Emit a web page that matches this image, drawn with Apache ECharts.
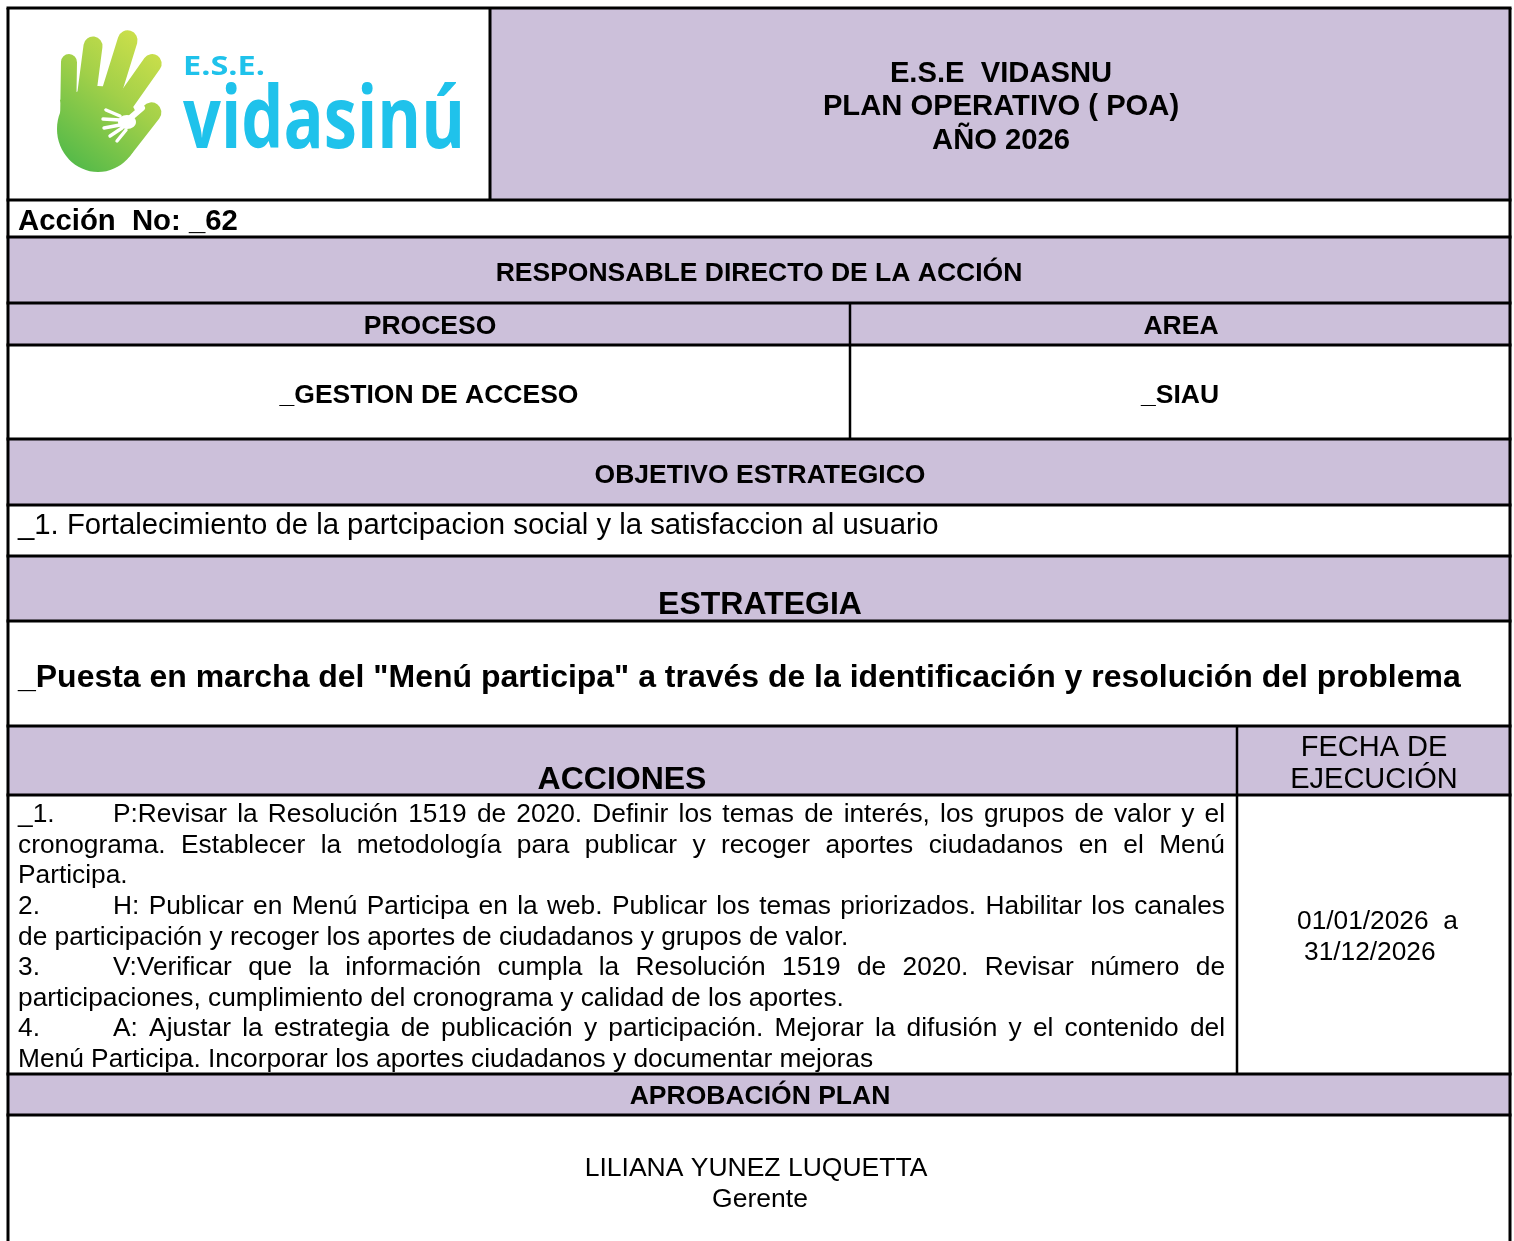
<!DOCTYPE html>
<html><head><meta charset="utf-8">
<script src="https://cdn.jsdelivr.net/npm/echarts@6/dist/echarts.min.js"></script>
<style>html,body{margin:0;padding:0;background:#fff}#c{width:1514px;height:1241px}</style>
</head><body><div id="c"></div>
<script>
// ---- content ----
const logoTexts = ['E.S.E.', 'vidasinú'];
const titleLines = ['E.S.E  VIDASNU', 'PLAN OPERATIVO ( POA)', 'AÑO 2026'];
const accionNo = 'Acción  No: _62';
const responsable = 'RESPONSABLE DIRECTO DE LA ACCIÓN';
const procesoHeaders = ['PROCESO', 'AREA'];
const procesoValues = ['_GESTION DE ACCESO', '_SIAU'];
const objetivoHeader = 'OBJETIVO ESTRATEGICO';
const objetivoText = '_1. Fortalecimiento de la partcipacion social y la satisfaccion al usuario';
const estrategiaHeader = 'ESTRATEGIA';
const estrategiaText = '_Puesta en marcha del "Menú participa" a través de la identificación y resolución del problema';
const accionesHeader = 'ACCIONES';
const fechaHeader = ['FECHA DE', 'EJECUCIÓN'];
const accionesNums = ['_1.', '', '', '2.', '', '3.', '', '4.', ''];
const accionesLines = [
  'P:Revisar la Resolución 1519 de 2020. Definir los temas de interés, los grupos de valor y el',
  'cronograma. Establecer la metodología para publicar y recoger aportes ciudadanos en el Menú',
  'Participa.',
  'H: Publicar en Menú Participa en la web. Publicar los temas priorizados. Habilitar los canales',
  'de participación y recoger los aportes de ciudadanos y grupos de valor.',
  'V:Verificar que la información cumpla la Resolución 1519 de 2020. Revisar número de',
  'participaciones, cumplimiento del cronograma y calidad de los aportes.',
  'A: Ajustar la estrategia de publicación y participación. Mejorar la difusión y el contenido del',
  'Menú Participa. Incorporar los aportes ciudadanos y documentar mejoras'
];
const accionesJustify = [true, true, false, true, false, true, false, true, false];
const fechaLines = ['01/01/2026  a', '31/12/2026'];
const aprobacionHeader = 'APROBACIÓN PLAN';
const firmaLines = ['LILIANA YUNEZ LUQUETTA', 'Gerente'];

// ---- layout ----
const FF = '"Liberation Sans", Arial, Helvetica, sans-serif';
const LOGOFF = '"Open Sans", "Liberation Sans", sans-serif';
const PURPLE = '#CCC0DA';
const L = 8, R = 1510;
const ctx = document.createElement('canvas').getContext('2d');
function mw(text, size, weight, fam) { ctx.font = (weight || 'normal') + ' ' + size + 'px ' + (fam || FF); return ctx.measureText(text).width; }
function T(text, x, y, size, weight, align) {
  return {
    type: 'text', z: 20,
    style: { text: text, x: x, y: y + 1, fill: '#000', font: (weight || 'normal') + ' ' + size + 'px ' + FF,
      textAlign: align || 'center', textVerticalAlign: 'middle' }
  };
}
function rect(x, y, w, h, fill) { return { type: 'rect', z: 1, shape: { x: x, y: y, width: w, height: h }, style: { fill: fill } }; }
function line(x1, y1, x2, y2, w) { return { type: 'line', z: 30, shape: { x1: x1, y1: y1, x2: x2, y2: y2 }, style: { stroke: '#000', lineWidth: w || 3 } }; }

const els = [];
// backgrounds
els.push(rect(0, 0, 1514, 1241, '#fff'));
els.push(rect(490, 8, R - 490, 192, PURPLE));
els.push(rect(L, 237, R - L, 66, PURPLE));
els.push(rect(L, 303, R - L, 42, PURPLE));
els.push(rect(L, 439, R - L, 66, PURPLE));
els.push(rect(L, 556, R - L, 65, PURPLE));
els.push(rect(L, 726, R - L, 69, PURPLE));
els.push(rect(L, 1074, R - L, 41, PURPLE));

// grid lines
[8, 200, 237, 303, 345, 439, 505, 556, 621, 726, 795, 1074, 1115].forEach(function (y) { els.push(line(L - 1.5, y, R + 1.5, y, 3)); });
els.push(line(L, 8, L, 1241, 3));
els.push(line(R, 8, R, 1241, 3));
els.push(line(490, 8, 490, 200, 3));
els.push(line(850, 303, 850, 439, 2.5));
els.push(line(1237, 726, 1237, 1074, 2.5));

// logo hand
const grad = { type: 'linear', x: 165, y: 35, x2: 60, y2: 170, global: true,
  colorStops: [{ offset: 0, color: '#D6E34B' }, { offset: 0.45, color: '#A2D049' }, { offset: 1, color: '#4AB749' }] };
els.push({ type: 'ellipse', z: 5, shape: { cx: 98, cy: 129, rx: 41, ry: 43 }, style: { fill: grad } });
[[69, 62, 68, 125, 16], [93, 46, 84, 115, 19], [127.6, 40.4, 106, 110, 20], [152.2, 63.5, 118, 112, 19], [151.4, 112.3, 122, 150, 20]].forEach(function (f) {
  els.push({ type: 'line', z: 5, shape: { x1: f[0], y1: f[1], x2: f[2], y2: f[3] }, style: { stroke: grad, lineWidth: f[4], lineCap: 'round' } });
});
els.push({ type: 'polygon', z: 5, shape: { points: [[60, 100], [76, 92], [104, 88], [118, 94], [130, 104], [138, 130], [124, 158], [80, 165]] }, style: { fill: grad } });
// little white hand
els.push({ type: 'ellipse', z: 6, shape: { cx: 127, cy: 122, rx: 9, ry: 7 }, style: { fill: '#fff' } });
els.push({ type: 'line', z: 6, shape: { x1: 128, y1: 120, x2: 142, y2: 108 }, style: { stroke: '#fff', lineWidth: 6, lineCap: 'round' } });
[[106, 110, 120, 116], [103, 119, 120, 120], [104, 128, 120, 125], [110, 136, 122, 128], [117, 141, 126, 130]].forEach(function (f) {
  els.push({ type: 'line', z: 6, shape: { x1: f[0], y1: f[1], x2: f[2], y2: f[3] }, style: { stroke: '#fff', lineWidth: 3.4, lineCap: 'round' } });
});
// logo texts
const cyan = '#1FC2EB';
const s1 = 82 / mw(logoTexts[0], 27, 'bold', LOGOFF);
els.push({ type: 'text', z: 20, x: 183, y: 67, scaleX: s1, style: { text: logoTexts[0], x: 0, y: 0, fill: cyan, font: 'bold 27px ' + LOGOFF, textAlign: 'left', textVerticalAlign: 'middle' } });
const s2 = 282 / mw(logoTexts[1], 86, 'bold', LOGOFF);
els.push({ type: 'text', z: 20, x: 183, y: 123, scaleX: s2, style: { text: logoTexts[1], x: 0, y: 0, fill: cyan, font: 'bold 86px ' + LOGOFF, textAlign: 'left', textVerticalAlign: 'middle' } });

// title
[72, 105, 139].forEach(function (y, i) { els.push(T(titleLines[i], 1001, y + 1, 29.2, 'bold')); });
els.push(T(accionNo, 18, 221, 29.3, 'bold', 'left'));
els.push(T(responsable, 759, 273, 26.5, 'bold'));
els.push(T(procesoHeaders[0], 430, 326, 26.5, 'bold'));
els.push(T(procesoHeaders[1], 1181, 326, 26.5, 'bold'));
els.push(T(procesoValues[0], 429, 395, 26.5, 'bold'));
els.push(T(procesoValues[1], 1180, 395, 26.5, 'bold'));
els.push(T(objetivoHeader, 760, 475, 26.5, 'bold'));
const oSize = 29 * 921 / mw(objetivoText, 29);
els.push(T(objetivoText, 18, 525, oSize, 'normal', 'left'));
els.push(T(estrategiaHeader, 760, 604, 32, 'bold'));
const pSize = 32 * 1443 / mw(estrategiaText, 32, 'bold');
els.push(T(estrategiaText, 18, 677, pSize, 'bold', 'left'));
els.push(T(accionesHeader, 622, 779, 32, 'bold'));
els.push(T(fechaHeader[0], 1374, 747, 29, 'normal'));
els.push(T(fechaHeader[1], 1374, 779, 29, 'normal'));

// acciones body (justified)
const BS = 26.3;
accionesLines.forEach(function (txt, i) {
  const y = 814 + i * 30.6;
  const num = accionesNums[i];
  let x0 = 18;
  if (num) { els.push(T(num, 18, y, BS, 'normal', 'left')); x0 = 113; }
  if (accionesJustify[i]) {
    const words = txt.split(' ');
    const widths = words.map(function (w) { return mw(w, BS); });
    const tot = widths.reduce(function (a, b) { return a + b; }, 0);
    const gap = (1225 - x0 - tot) / (words.length - 1);
    let x = x0;
    words.forEach(function (w, k) { els.push(T(w, x, y, BS, 'normal', 'left')); x += widths[k] + gap; });
  } else {
    els.push(T(txt, x0, y, BS, 'normal', 'left'));
  }
});
els.push(T(fechaLines[0], 1297, 921, 26.3, 'normal', 'left'));
els.push(T(fechaLines[1], 1304, 952, 26.3, 'normal', 'left'));
els.push(T(aprobacionHeader, 760, 1096, 26.5, 'bold'));
els.push(T(firmaLines[0], 756, 1168, 26.5, 'normal'));
els.push(T(firmaLines[1], 760, 1199, 26.5, 'normal'));

const chart = echarts.init(document.getElementById('c'), null, { renderer: 'canvas' });
chart.setOption({ backgroundColor: '#fff', animation: false, graphic: { elements: els } });
</script></body></html>
